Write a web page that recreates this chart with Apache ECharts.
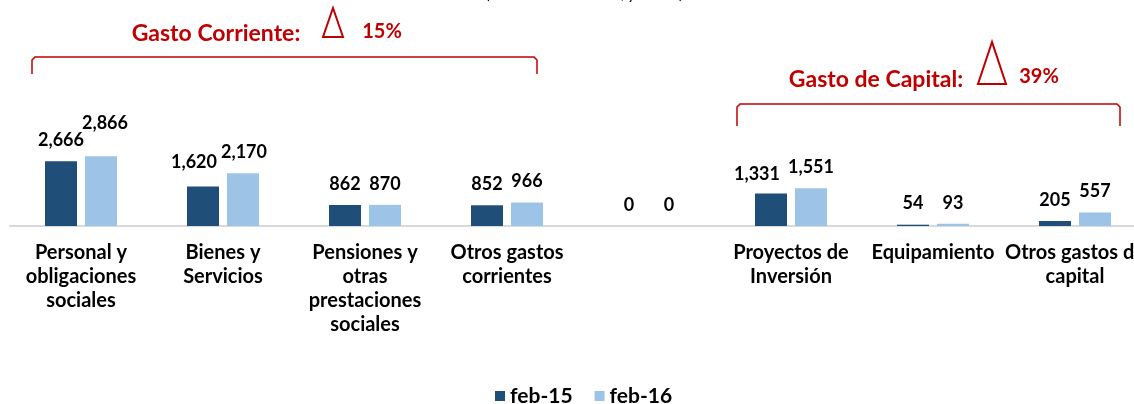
<!DOCTYPE html>
<html>
<head>
<meta charset="utf-8">
<script src="https://cdn.jsdelivr.net/npm/echarts@6/dist/echarts.min.js"></script>
<style>
html,body{margin:0;padding:0;overflow:hidden;background:#fff;width:1134px;height:404px;}
#chart{width:1170px;height:404px;}
</style>
</head>
<body>
<div id="chart"></div>
<script>
// ---- data ----
const categories = [
  'Personal y\nobligaciones\nsociales',
  'Bienes y\nServicios',
  'Pensiones y\notras\nprestaciones\nsociales',
  'Otros gastos\ncorrientes',
  '',
  'Proyectos de\nInversión',
  'Equipamiento',
  'Otros gastos de\ncapital'
];
const seriesNames = ['feb-15', 'feb-16'];
const feb15 = [2666, 1620, 862, 852, 0, 1331, 54, 205];
const feb16 = [2866, 2170, 870, 966, 0, 1551, 93, 557];
const groupTitles = ['Gasto Corriente:', 'Gasto de Capital:'];
const groupGrowth = ['15%', '39%'];
const subtitle = '(En millones de soles, y var. %)';

// label nudges (as in the original picture)
const offs15 = [[0,0],[-9,-3],[0,0],[0,0],[0,0],[-14,2],[0,0],[0,0]];
const offs16 = [[4,-12],[1,0],[0,0],[0,0],[0,0],[0,0],[0,0],[0,0]];

const FONT = 'Lato, "Open Sans", sans-serif';
const RED = '#c00000';
const fmt = v => v.toLocaleString('en-US');

function mk(vals, offs){
  return vals.map((v,i)=>({value:v, label:{offset:offs[i]}}));
}

const chart = echarts.init(document.getElementById('chart'), null, {renderer:'canvas'});
const labelCommon = {
  show:true, position:'top', distance:12,
  fontFamily:FONT, fontWeight:'bold', fontSize:18, color:'#000',
  formatter:p=>fmt(p.value)
};

chart.setOption({
  animation:false,
  backgroundColor:'#fff',
  grid:{left:10, right:24, top:153, bottom:178, containLabel:false},
  legend:{
    data:seriesNames, left:490, top:380, icon:'rect', itemWidth:10, itemHeight:10,
    itemGap:22,
    textStyle:{fontFamily:FONT, fontWeight:'bold', fontSize:21, color:'#000', lineHeight:22}
  },
  xAxis:{
    type:'category', data:categories,
    axisLine:{show:true, lineStyle:{color:'#d9d9d9', width:2}},
    axisTick:{show:false},
    axisLabel:{interval:0, margin:15, fontFamily:FONT, fontWeight:'bold', fontSize:20,
      lineHeight:24, color:'#000', align:'center'}
  },
  yAxis:{type:'value', min:0, max:3000, show:false, splitLine:{show:false}},
  series:[
    {name:seriesNames[0], type:'bar', data:mk(feb15, offs15), barWidth:32, barGap:'25%',
      itemStyle:{color:'#1f4e79'}, label:labelCommon},
    {name:seriesNames[1], type:'bar', data:mk(feb16, offs16), barWidth:32, barGap:'25%',
      itemStyle:{color:'#9dc3e6'}, label:labelCommon}
  ],
  graphic:[
    {type:'text', x:585, y:-6, style:{text:subtitle, fill:'#000',
      font:'italic 16px ' + FONT, textAlign:'center', textVerticalAlign:'middle'}},
    // group 1
    {type:'text', x:216, y:34, style:{text:groupTitles[0], fill:RED,
      font:'bold 23px ' + FONT, textAlign:'center', textVerticalAlign:'middle'}},
    {type:'polygon', shape:{points:[[333,8],[323,37],[343,37]]},
      style:{fill:'none', stroke:RED, lineWidth:2}},
    {type:'text', x:382, y:32, style:{text:groupGrowth[0], fill:RED,
      font:'bold 20px ' + FONT, textAlign:'center', textVerticalAlign:'middle'}},
    {type:'polyline', shape:{points:[[32,74],[32,60],[35,57],[534,57],[537,60],[537,74]]},
      style:{fill:'none', stroke:RED, lineWidth:1.5}},
    // group 2
    {type:'text', x:876, y:80, style:{text:groupTitles[1], fill:RED,
      font:'bold 23px ' + FONT, textAlign:'center', textVerticalAlign:'middle'}},
    {type:'polygon', shape:{points:[[992,42],[978,84],[1006,84]]},
      style:{fill:'none', stroke:RED, lineWidth:2}},
    {type:'text', x:1039, y:77, style:{text:groupGrowth[1], fill:RED,
      font:'bold 20px ' + FONT, textAlign:'center', textVerticalAlign:'middle'}},
    {type:'polyline', shape:{points:[[737,126],[737,107],[740,104],[1117,104],[1120,107],[1120,126]]},
      style:{fill:'none', stroke:RED, lineWidth:1.5}}
  ]
});
</script>
</body>
</html>
